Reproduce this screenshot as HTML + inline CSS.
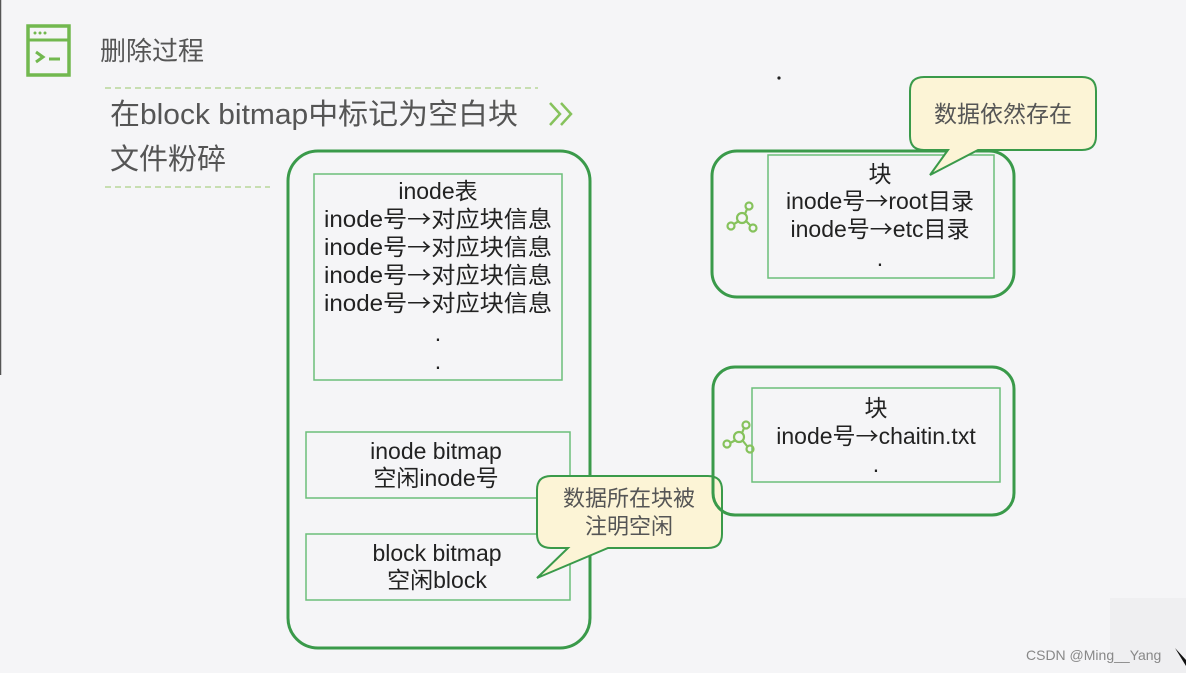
<!DOCTYPE html>
<html><head><meta charset="utf-8"><style>
html,body{margin:0;padding:0;background:#f5f5f7;}
svg{display:block;}
text{font-family:"Liberation Sans","Noto Sans CJK SC",sans-serif;}
.a{font-family:"Noto Sans CJK SC",sans-serif;}
</style></head><body>
<svg width="1186" height="673" viewBox="0 0 1186 673" xmlns="http://www.w3.org/2000/svg">
<rect width="1186" height="673" fill="#f5f5f7"/>
<line x1="0.5" y1="0" x2="0.5" y2="375" stroke="#555" stroke-width="1.5"/>
<!-- icon -->
<rect x="28" y="26" width="41" height="49" fill="none" stroke="#72b84f" stroke-width="3.5"/>
<line x1="28" y1="40" x2="69" y2="40" stroke="#72b84f" stroke-width="3"/>
<circle cx="35" cy="33" r="1.5" fill="#72b84f"/><circle cx="40" cy="33" r="1.5" fill="#72b84f"/><circle cx="45" cy="33" r="1.5" fill="#72b84f"/>
<polyline points="36,52 43,57 36,62" fill="none" stroke="#72b84f" stroke-width="3"/>
<line x1="49" y1="59" x2="60" y2="59" stroke="#72b84f" stroke-width="3"/>
<text x="100" y="60" font-size="26" fill="#555">删除过程</text>
<line x1="105" y1="88" x2="538" y2="88" stroke="#b8d69a" stroke-width="1.5" stroke-dasharray="6,4"/>
<text x="110" y="124" font-size="29" fill="#555" textLength="408" lengthAdjust="spacingAndGlyphs">在block bitmap中标记为空白块</text>
<polyline points="550,103 560,114 550,125" fill="none" stroke="#86c25c" stroke-width="2.5"/>
<polyline points="561,103 571,114 561,125" fill="none" stroke="#86c25c" stroke-width="2.5"/>
<text x="110" y="169" font-size="29" fill="#555">文件粉碎</text>
<line x1="105" y1="187" x2="270" y2="187" stroke="#b8d69a" stroke-width="1.5" stroke-dasharray="6,4"/>

<!-- big box -->
<rect x="288" y="151" width="302" height="497" rx="30" fill="none" stroke="#3a9a4a" stroke-width="3"/>
<rect x="314" y="174" width="248" height="206" fill="none" stroke="#6cbf7a" stroke-width="1.5"/>
<g font-size="23" fill="#222" text-anchor="middle">
<text x="438" y="199">inode表</text>
<text x="438" y="227" textLength="228" lengthAdjust="spacingAndGlyphs">inode号<tspan class="a">→</tspan>对应块信息</text>
<text x="438" y="255" textLength="228" lengthAdjust="spacingAndGlyphs">inode号<tspan class="a">→</tspan>对应块信息</text>
<text x="438" y="283" textLength="228" lengthAdjust="spacingAndGlyphs">inode号<tspan class="a">→</tspan>对应块信息</text>
<text x="438" y="311" textLength="228" lengthAdjust="spacingAndGlyphs">inode号<tspan class="a">→</tspan>对应块信息</text>
<text x="438" y="341">.</text>
<text x="438" y="369">.</text>
</g>
<rect x="306" y="432" width="264" height="66" fill="none" stroke="#6cbf7a" stroke-width="1.5"/>
<g font-size="23" fill="#222" text-anchor="middle">
<text x="436" y="459">inode bitmap</text>
<text x="436" y="486">空闲inode号</text>
</g>
<rect x="306" y="534" width="264" height="66" fill="none" stroke="#6cbf7a" stroke-width="1.5"/>
<g font-size="23" fill="#222" text-anchor="middle">
<text x="437" y="561">block bitmap</text>
<text x="437" y="588">空闲block</text>
</g>
<!-- callout 2 -->
<path d="M551,476 H708 Q722,476 722,490 V534 Q722,548 708,548 H608 L537,578 L568,548 H551 Q537,548 537,534 V490 Q537,476 551,476 Z" fill="#fcf4d6" stroke="#3a9a4a" stroke-width="2"/>
<g font-size="22" fill="#555" text-anchor="middle">
<text x="629" y="506">数据所在块被</text>
<text x="629" y="534">注明空闲</text>
</g>

<!-- right box 1 -->
<circle cx="779" cy="78" r="1.6" fill="#222"/>
<rect x="712" y="151" width="302" height="146" rx="25" fill="none" stroke="#3a9a4a" stroke-width="3"/>
<rect x="768" y="155" width="226" height="123" fill="none" stroke="#6cbf7a" stroke-width="1.5"/>
<g font-size="23" fill="#222" text-anchor="middle">
<text x="880" y="182">块</text>
<text x="880" y="209">inode号<tspan class="a">→</tspan>root目录</text>
<text x="880" y="237">inode号<tspan class="a">→</tspan>etc目录</text>
<text x="880" y="266">.</text>
</g>
<g fill="none" stroke="#86c25c" stroke-width="2.2">
<circle cx="742" cy="218" r="5"/><circle cx="749" cy="206" r="3.5"/><circle cx="731" cy="226" r="3.5"/><circle cx="753" cy="228" r="3.5"/>
<line x1="739" y1="221" x2="734" y2="224"/><line x1="745" y1="214" x2="747" y2="209"/><line x1="746" y1="221" x2="750" y2="225"/>
</g>
<path d="M924,77 H1082 Q1096,77 1096,91 V136 Q1096,150 1082,150 H978 L930,175 L948,150 H924 Q910,150 910,136 V91 Q910,77 924,77 Z" fill="#fcf4d6" stroke="#3a9a4a" stroke-width="2"/>
<text x="1003" y="122" font-size="23" fill="#555" text-anchor="middle">数据依然存在</text>

<!-- right box 2 -->
<rect x="713" y="367" width="301" height="148" rx="22" fill="none" stroke="#3a9a4a" stroke-width="3"/>
<rect x="752" y="388" width="248" height="94" fill="none" stroke="#6cbf7a" stroke-width="1.5"/>
<g font-size="23" fill="#222" text-anchor="middle">
<text x="876" y="416">块</text>
<text x="876" y="444">inode号<tspan class="a">→</tspan>chaitin.txt</text>
<text x="876" y="472">.</text>
</g>
<g fill="none" stroke="#86c25c" stroke-width="2.2">
<circle cx="739" cy="437" r="5"/><circle cx="746" cy="425" r="3.5"/><circle cx="727" cy="444" r="3.5"/><circle cx="750" cy="449" r="3.5"/>
<line x1="736" y1="440" x2="730" y2="443"/><line x1="742" y1="433" x2="744" y2="428"/><line x1="743" y1="441" x2="747" y2="446"/>
</g>

<rect x="1110" y="598" width="76" height="75" fill="#efeff1"/>
<text x="1026" y="660" font-size="14" fill="#888">CSDN @Ming__Yang</text>
<path d="M1175,648 L1186,660 L1186,666 Z" fill="#111"/>
</svg>
</body></html>
